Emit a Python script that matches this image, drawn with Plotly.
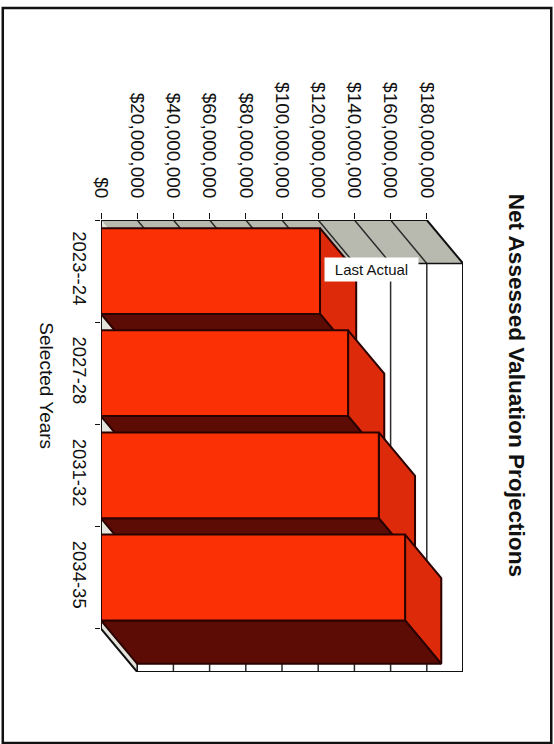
import plotly.graph_objects as go

# Projected net assessed valuation, dollars
years = ["2023--24", "2027-28", "2031-32", "2034-35"]
valuations = [121000000, 136500000, 153500000, 168000000]
axis_ticks = [0, 20000000, 40000000, 60000000, 80000000, 100000000,
              120000000, 140000000, 160000000, 180000000]
tick_labels = ["${:,}".format(v) for v in axis_ticks]

# Oblique offset of the back plane, in axis units
DEPTH_X = 20000000
DEPTH_Y = 0.425
BAR_WIDTH = 0.84

WIDTH, HEIGHT = 554, 744
LEFT, TOP, RIGHT, BOTTOM = 100.5, 220, 90.5, 72
FONT = "Liberation Sans, Arial, sans-serif"
INK = "#111111"
FRONT, SIDE, UNDER, EDGE = "#fb3005", "#dc2a0a", "#5c0c04", "#2a0200"
CEILING, SILL = "#b8bab0", "#e4e4dc"

X_MAX = axis_ticks[-1] + DEPTH_X
Y_TOP, Y_BOTTOM = -0.5, len(years) - 0.5


def paper_x(px):
    return (px - LEFT) / (WIDTH - LEFT - RIGHT)


def paper_y(py):
    return 1 - (py - TOP) / (HEIGHT - TOP - BOTTOM)


def polygon(xs, ys, fill, edge=None, width=2):
    return go.Scatter(
        x=xs, y=ys, mode="lines", fill="toself" if fill else "none",
        fillcolor=fill, line=dict(color=edge or "rgba(0,0,0,0)", width=width),
        hoverinfo="skip", showlegend=False, cliponaxis=False,
    )


fig = go.Figure()

# Walls of the 3-D box
far = axis_ticks[-1]
fig.add_trace(polygon([0, far, far + DEPTH_X, DEPTH_X, 0],
                      [Y_TOP, Y_TOP, Y_TOP + DEPTH_Y, Y_TOP + DEPTH_Y, Y_TOP], CEILING))
fig.add_trace(polygon([0, DEPTH_X, DEPTH_X, 0, 0],
                      [Y_TOP, Y_TOP + DEPTH_Y, Y_BOTTOM + DEPTH_Y, Y_BOTTOM, Y_TOP], SILL))

# Gridlines run over the ceiling and straight down the back wall
for v in axis_ticks[1:-1]:
    fig.add_trace(polygon([v, v + DEPTH_X, v + DEPTH_X],
                          [Y_TOP, Y_TOP + DEPTH_Y, Y_BOTTOM + DEPTH_Y],
                          None, "#2c2c2c", 1.5))

# Box outline
fig.add_trace(polygon([far, 0, 0, DEPTH_X, far + DEPTH_X, far + DEPTH_X, far],
                      [Y_TOP, Y_TOP, Y_BOTTOM, Y_BOTTOM + DEPTH_Y, Y_BOTTOM + DEPTH_Y,
                       Y_TOP + DEPTH_Y, Y_TOP], None, INK, 2))
fig.add_trace(polygon([DEPTH_X, far + DEPTH_X], [Y_TOP + DEPTH_Y, Y_TOP + DEPTH_Y],
                      None, INK, 1.5))
fig.add_trace(polygon([DEPTH_X, DEPTH_X], [Y_TOP + DEPTH_Y, Y_BOTTOM + DEPTH_Y],
                      None, INK, 1.5))

# Side and underside of each bar, nearest bar last
for i, v in enumerate(valuations):
    t, b = i - BAR_WIDTH / 2, i + BAR_WIDTH / 2
    fig.add_trace(polygon([v, v + DEPTH_X, v + DEPTH_X, v, v],
                          [t, t + DEPTH_Y, b + DEPTH_Y, b, t], SIDE, EDGE))
    fig.add_trace(polygon([0, v, v + DEPTH_X, DEPTH_X, 0],
                          [b, b, b + DEPTH_Y, b + DEPTH_Y, b], UNDER, EDGE))

# Front faces on an overlaid subplot, so they sit above the extruded sides
fig.add_trace(go.Bar(
    x=valuations, y=list(range(len(years))), orientation="h", width=BAR_WIDTH,
    marker=dict(color=FRONT, line=dict(color=EDGE, width=2)),
    xaxis="x2", yaxis="y2", showlegend=False, hoverinfo="skip",
))

fig.update_layout(
    width=WIDTH, height=HEIGHT, autosize=False,
    margin=dict(l=LEFT, r=RIGHT, t=TOP, b=BOTTOM, pad=0),
    paper_bgcolor="white", plot_bgcolor="white",
    font=dict(family=FONT, color=INK),
    xaxis=dict(
        side="top", range=[0, X_MAX], showgrid=False, zeroline=False,
        tickmode="array", tickvals=axis_ticks, ticktext=tick_labels, tickangle=90,
        ticks="outside", ticklen=6, tickwidth=1, tickcolor=INK,
        tickfont=dict(size=19, family=FONT, color=INK), ticklabelstandoff=8,
    ),
    yaxis=dict(
        range=[Y_BOTTOM + DEPTH_Y, Y_TOP], showgrid=False, zeroline=False,
        tickmode="array", tickvals=list(range(len(years))), ticktext=years, tickangle=90,
        ticks="", tickfont=dict(size=18.5, family=FONT, color=INK), ticklabelstandoff=8,
        minor=dict(tickmode="array", tickvals=[i - 0.5 for i in range(len(years) + 1)],
                   ticks="outside", ticklen=5, tickwidth=1, tickcolor=INK, showgrid=False),
    ),
    xaxis2=dict(overlaying="x", range=[0, X_MAX], visible=False),
    yaxis2=dict(overlaying="y", range=[Y_BOTTOM + DEPTH_Y, Y_TOP], visible=False),
    shapes=[dict(type="rect", xref="paper", yref="paper",
                 x0=paper_x(2), x1=paper_x(552), y0=paper_y(8), y1=paper_y(743),
                 line=dict(color="#111111", width=2.5), fillcolor="rgba(0,0,0,0)", layer="below")],
    annotations=[
        dict(text="<b>Net Assessed Valuation Projections</b>", xref="paper", yref="paper",
             x=paper_x(518), y=paper_y(385), xanchor="center", yanchor="middle",
             showarrow=False, textangle=90, font=dict(size=22.6, family=FONT, color=INK)),
        dict(text="Selected Years", xref="paper", yref="paper",
             x=paper_x(46), y=paper_y(386), xanchor="center", yanchor="middle",
             showarrow=False, textangle=90, font=dict(size=19, family=FONT, color=INK)),
        dict(text="Last Actual", xref="paper", yref="paper",
             x=paper_x(371.5), y=paper_y(269.5), xanchor="center", yanchor="middle",
             showarrow=False, width=91, height=21,
             bgcolor="white", font=dict(size=15, family=FONT, color=INK)),
    ],
)

fig.write_html("out.html")
